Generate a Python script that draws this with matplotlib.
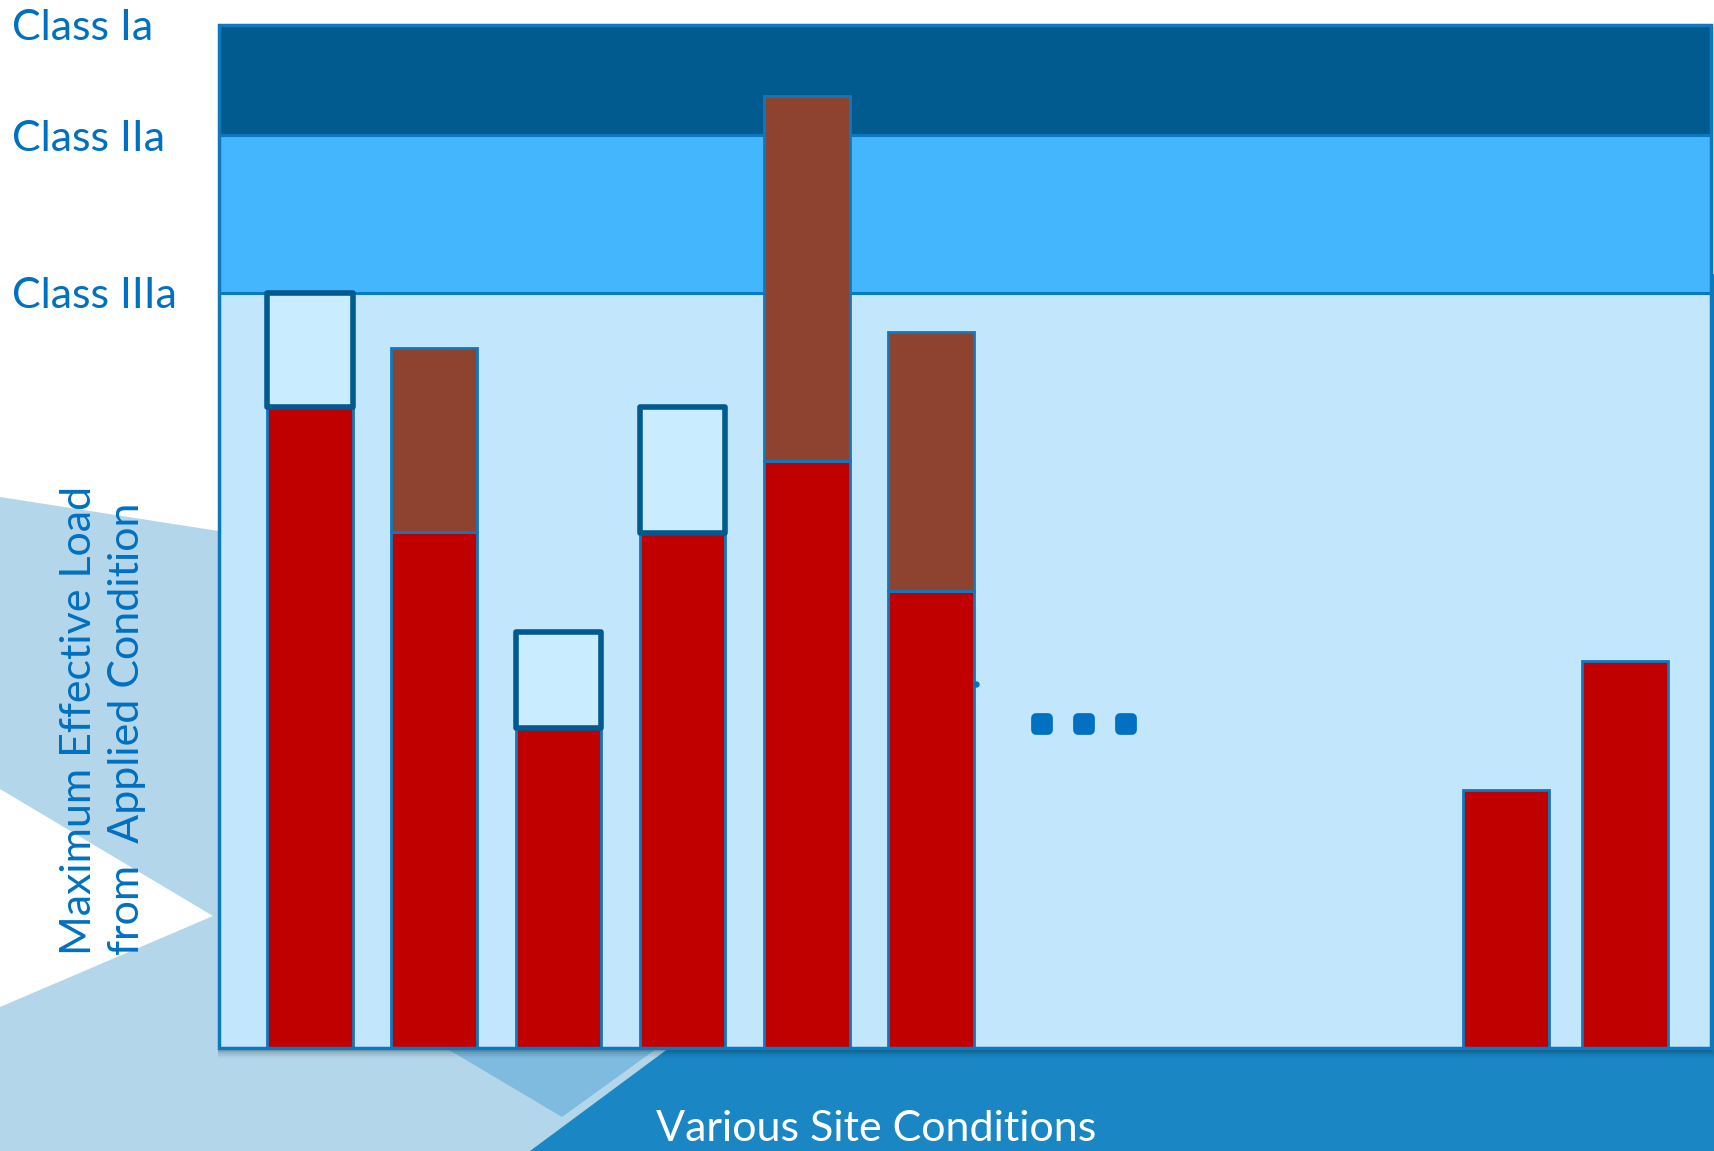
import numpy as np
import matplotlib
matplotlib.use("Agg")
import matplotlib.pyplot as plt
from matplotlib.patches import Polygon, Rectangle
from matplotlib.markers import MarkerStyle
import matplotlib.transforms as mtransforms

# ---- data -------------------------------------------------------------
class_names = ["Class Ia", "Class IIa", "Class IIIa"]
class_limits = [100.0, 89.2, 73.8]          # upper edge of each class band is the next limit

site_slots = [1, 2, 3, 4, 5, 6, 10.63, 11.59]
applied_load = [62.6, 50.4, 31.3, 50.3, 57.4, 44.7, 25.2, 37.8]
exceed_top = [np.nan, 68.4, np.nan, np.nan, 93.0, 70.0, np.nan, np.nan]
margin_top = [73.8, np.nan, 40.7, 62.6, np.nan, np.nan, np.nan, np.nan]

ellipsis_x = [6.89, 7.23, 7.57]
ellipsis_y = 31.7

y_label = "Maximum Effective Load\nfrom  Applied Condition"
x_label = "Various Site Conditions"

# ---- styling -----------------------------------------------------------
W, H = 1715, 1151
TXT_BLUE = "#0070C0"
FONT = ["Lato", "DejaVu Sans"]
FS = 31

plt.rcParams["font.family"] = FONT

fig = plt.figure(figsize=(W / 100, H / 100), dpi=100)
fig.patch.set_facecolor("white")


def fpt(px, py):
    return (px / W, 1 - py / H)


# slide backdrop shapes
def backdrop(points, color, z=-5):
    fig.patches.append(Polygon([fpt(*p) for p in points], closed=True,
                               transform=fig.transFigure, facecolor=color,
                               edgecolor="none", zorder=z))

backdrop([(0, 497), (700, 606), (700, 1151), (0, 1151)], "#B3D6EA")
backdrop([(0, 789), (213, 916), (0, 1007)], "white", z=-4)
backdrop([(365, 1000), (562, 1117), (904, 870)], "#7EBBDF", z=-4)
backdrop([(530, 1151), (1715, 273), (1715, 1151)], "#1A87C4", z=-3)

# plot frame
left_px, right_px, top_px, bottom_px = 219, 1711, 24.5, 1048.3

# soft shadow beneath the chart panel
for i, a in enumerate([0.14, 0.10, 0.07, 0.05, 0.03]):
    off = 2 + 2 * i
    x0, y0 = fpt(left_px - 1, bottom_px + off)
    x1, y1 = fpt(right_px + off * 0.4, top_px + 2)
    fig.patches.append(Rectangle((x0, y0), x1 - x0, y1 - y0,
                                 transform=fig.transFigure, facecolor="black",
                                 alpha=a, edgecolor="none", zorder=-2))

ax = fig.add_axes([left_px / W, 1 - bottom_px / H,
                   (right_px - left_px) / W, (bottom_px - top_px) / H])
ax.set_xlim(0.267, 12.28)
ax.set_ylim(0, class_limits[0])
ax.set_axis_off()

# class bands
band_colors = ["#025B8F", "#43B6FE", "#C2E6FC"]
band_bounds = class_limits + [0.0]
for k, c in enumerate(band_colors):
    ax.axhspan(band_bounds[k + 1], band_bounds[k], color=c, zorder=0, lw=0)
for lim in class_limits[1:]:
    ax.axhline(lim, color="#0B78C2", lw=2.2, zorder=1)
ax.add_patch(Rectangle((0, 0), 1, 1, transform=ax.transAxes, fill=False,
                       edgecolor="#0E78BE", lw=2.5, zorder=6, clip_on=False))

# bars
slots = np.array(site_slots)
applied = np.array(applied_load)
exceed = np.array(exceed_top)
margin = np.array(margin_top)
bw = 0.69
edge = "#1177BD"

ax.bar(slots, applied, width=bw, color="#C00000", edgecolor=edge, lw=2, zorder=3)

m = ~np.isnan(exceed)
ax.bar(slots[m], exceed[m] - applied[m], bottom=applied[m], width=bw,
       color="#8E4230", edgecolor=edge, lw=2, zorder=3)

m = ~np.isnan(margin)
ax.bar(slots[m], margin[m] - applied[m], bottom=applied[m], width=bw,
       color="#C9EDFE", edgecolor="#00598F", lw=4, joinstyle="round", zorder=4)

# continuation marks
ax.plot(ellipsis_x, [ellipsis_y] * 3, linestyle="none",
        marker=MarkerStyle("s", joinstyle="round"), ms=9, mew=7,
        color=TXT_BLUE, zorder=5)
ax.plot([6.36], [35.6], linestyle="none", marker="o", ms=3.5,
        color=TXT_BLUE, zorder=5)

# class labels, aligned with band edges
lab_tf = mtransforms.blended_transform_factory(fig.transFigure, ax.transData) + \
    mtransforms.ScaledTranslation(0, -3.5 / 100, fig.dpi_scale_trans)
for name, lim in zip(class_names, class_limits):
    ax.text(12 / W, lim, name, transform=lab_tf, ha="left", va="center",
            fontsize=FS, color=TXT_BLUE, clip_on=False)

# axis titles
fig.text(103 / W, 1 - 955 / H, y_label, rotation=90, ha="center", va="bottom",
         multialignment="left", fontsize=FS, color=TXT_BLUE, linespacing=1.33)
fig.text(876 / W, 1 - 1129 / H, x_label, ha="center", va="center",
         fontsize=FS, color="white")

fig.savefig("out.png", dpi=100)
